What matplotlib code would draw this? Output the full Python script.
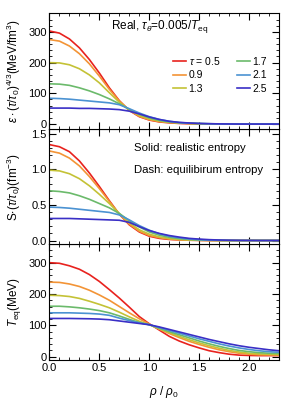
import matplotlib
matplotlib.use('Agg')
import matplotlib.pyplot as plt
from matplotlib.ticker import MultipleLocator, AutoMinorLocator

plt.rcParams['font.family'] = ['Liberation Sans', 'DejaVu Sans']
plt.rcParams['mathtext.fontset'] = 'custom'
plt.rcParams['mathtext.rm'] = 'Liberation Sans'
plt.rcParams['mathtext.it'] = 'Liberation Sans:italic'

# dados, x = rho/rho0 de 0 a 2.3 passo 0.1
rho = [0.0, 0.1, 0.2, 0.3, 0.4, 0.5, 0.6, 0.7, 0.8, 0.9, 1.0, 1.1,
       1.2, 1.3, 1.4, 1.5, 1.6, 1.7, 1.8, 1.9, 2.0, 2.1, 2.2, 2.3]
taus = ['0.5', '0.9', '1.3', '1.7', '2.1', '2.5']
cores = ['#e8221e', '#f39436', '#c4c236', '#6bba6b', '#4b92d2', '#3a2fc6']

eps = [
    [303, 296, 277, 248, 210, 166, 118, 76, 44, 24, 13, 7, 4, 2, 1, 0.5, 0, 0, 0, 0, 0, 0, 0, 0],
    [275, 270, 254, 229, 196, 156, 113, 75, 45, 25, 14, 8, 5, 3, 2, 1, 0.5, 0, 0, 0, 0, 0, 0, 0],
    [200, 199, 193, 180, 160, 134, 102, 71, 46, 28, 17, 10, 6, 4, 2, 1, 0.5, 0, 0, 0, 0, 0, 0, 0],
    [131, 130, 126, 118, 108, 96, 82, 66, 48, 32, 20, 12, 7, 4, 2.5, 1.5, 1, 0.5, 0, 0, 0, 0, 0, 0],
    [84, 83, 81, 78, 75, 72, 69, 63, 50, 36, 24, 15, 9, 5, 3, 2, 1, 0.5, 0, 0, 0, 0, 0, 0],
    [52, 52, 52, 51, 51, 50, 49, 47, 42, 33, 23, 15, 9, 5.5, 3.5, 2, 1.2, 0.6, 0.3, 0, 0, 0, 0, 0],
]

entropia = [
    [1.35, 1.32, 1.25, 1.12, 0.95, 0.76, 0.56, 0.37, 0.22, 0.12, 0.06, 0.03, 0.015, 0.008, 0.004, 0.002, 0, 0, 0, 0, 0, 0, 0, 0],
    [1.26, 1.23, 1.16, 1.05, 0.90, 0.73, 0.55, 0.37, 0.23, 0.13, 0.07, 0.04, 0.02, 0.01, 0.005, 0.002, 0, 0, 0, 0, 0, 0, 0, 0],
    [0.99, 0.98, 0.94, 0.87, 0.77, 0.65, 0.52, 0.38, 0.25, 0.15, 0.09, 0.05, 0.03, 0.015, 0.008, 0.004, 0.002, 0, 0, 0, 0, 0, 0, 0],
    [0.70, 0.69, 0.67, 0.63, 0.58, 0.52, 0.46, 0.38, 0.28, 0.19, 0.12, 0.075, 0.045, 0.027, 0.015, 0.008, 0.004, 0.002, 0, 0, 0, 0, 0, 0],
    [0.47, 0.465, 0.455, 0.44, 0.425, 0.41, 0.395, 0.36, 0.29, 0.21, 0.145, 0.095, 0.06, 0.037, 0.022, 0.012, 0.006, 0.003, 0.001, 0, 0, 0, 0, 0],
    [0.31, 0.31, 0.31, 0.305, 0.30, 0.295, 0.29, 0.285, 0.255, 0.195, 0.14, 0.10, 0.07, 0.048, 0.03, 0.02, 0.012, 0.007, 0.004, 0.002, 0.001, 0, 0, 0],
]

teq = [
    [300, 298, 290, 279, 262, 240, 214, 187, 158, 128, 105, 85, 65, 50, 38, 28, 19, 13, 8, 5, 4, 3.5, 3.5, 3.5],
    [238, 237, 232, 224, 212, 197, 180, 160, 140, 121, 104, 88, 74, 61, 49, 39, 30, 22, 16, 11, 8, 6, 5.5, 5],
    [196, 195, 192, 186, 177, 167, 156, 142, 127, 113, 102, 89, 77, 65, 54, 44, 35, 27, 20, 15, 11, 9, 8, 7],
    [161, 161, 159, 156, 152, 147, 140, 130, 119, 109, 102, 91, 80, 70, 60, 50, 41, 33, 26, 20, 16, 13, 11, 10],
    [140, 140, 140, 139, 138, 136, 132, 123, 115, 108, 102, 93, 84, 75, 66, 57, 49, 41, 34, 28, 23, 19, 16, 14],
    [122, 122, 122, 121.5, 121, 120, 118, 114, 110, 106, 102, 95, 87, 79, 71, 63, 55, 48, 41, 35, 30, 26, 22, 19],
]

fig = plt.figure(figsize=(2.91, 4.07), dpi=100)
esq, larg, alt, base = 0.170, 0.789, 0.2838, 0.1155
ax3 = fig.add_axes([esq, base, larg, alt])
ax2 = fig.add_axes([esq, base + alt, larg, alt], sharex=ax3)
ax1 = fig.add_axes([esq, base + 2 * alt, larg, alt], sharex=ax3)

for i in range(6):
    lab = r'$\tau$ = ' + taus[i] if i == 0 else taus[i]
    ax1.plot(rho, eps[i], color=cores[i], lw=1.2, label=lab)
    ax2.plot(rho, entropia[i], color=cores[i], lw=1.2)
    ax3.plot(rho, teq[i], color=cores[i], lw=1.2)

ax1.set_ylim(-16, 360)
ax2.set_ylim(-0.056, 1.57)
ax3.set_ylim(-10.5, 358)
ax3.set_xlim(0, 2.3)

ax1.yaxis.set_major_locator(MultipleLocator(100))
ax2.yaxis.set_major_locator(MultipleLocator(0.5))
ax3.yaxis.set_major_locator(MultipleLocator(100))
ax3.xaxis.set_major_locator(MultipleLocator(0.5))
ax2.yaxis.set_major_formatter(matplotlib.ticker.FormatStrFormatter('%.1f'))
ax3.xaxis.set_major_formatter(matplotlib.ticker.FormatStrFormatter('%.1f'))

for ax in [ax1, ax2, ax3]:
    ax.xaxis.set_minor_locator(AutoMinorLocator(5))
    ax.yaxis.set_minor_locator(AutoMinorLocator(5))
    ax.tick_params(which='both', direction='in', top=True, right=True, labelsize=8, pad=2)
    ax.tick_params(which='major', length=5, width=0.8)
    ax.tick_params(which='minor', length=2.5, width=0.6)
    for s in ax.spines.values():
        s.set_linewidth(0.8)
ax1.tick_params(labelbottom=False)
ax2.tick_params(labelbottom=False)

ax1.set_ylabel(r'$\varepsilon\cdot(\tau/\tau_0)^{4/3}$(MeV/fm$^3$)', fontsize=8.5)
ax2.set_ylabel(r'S$\cdot(\tau/\tau_0)$(fm$^{-3}$)', fontsize=8.5)
ax3.set_ylabel(r'$T_{\rm eq}$(MeV)', fontsize=8.5)
ax3.set_xlabel(r'$\rho$ / $\rho_0$', fontsize=8.5, labelpad=8)
for ax in [ax1, ax2, ax3]:
    ax.yaxis.set_label_coords(-0.115, 0.5)

ax1.text(0.48, 0.89, r'Real, $\tau_\theta$=0.005/$T_{\rm eq}$', transform=ax1.transAxes,
         ha='center', va='center', fontsize=8.5)
ax1.legend(ncol=2, frameon=False, fontsize=7.5, handlelength=1.2, handletextpad=0.3,
           columnspacing=1.6, labelspacing=0.35, loc='upper left',
           bbox_to_anchor=(0.52, 0.68), borderaxespad=0)

ax2.text(0.37, 0.836, 'Solid: realistic entropy', transform=ax2.transAxes,
         ha='left', va='center', fontsize=8.2)
ax2.text(0.37, 0.646, 'Dash: equilibirum entropy', transform=ax2.transAxes,
         ha='left', va='center', fontsize=8.2)

fig.savefig('out.png', dpi=100)
